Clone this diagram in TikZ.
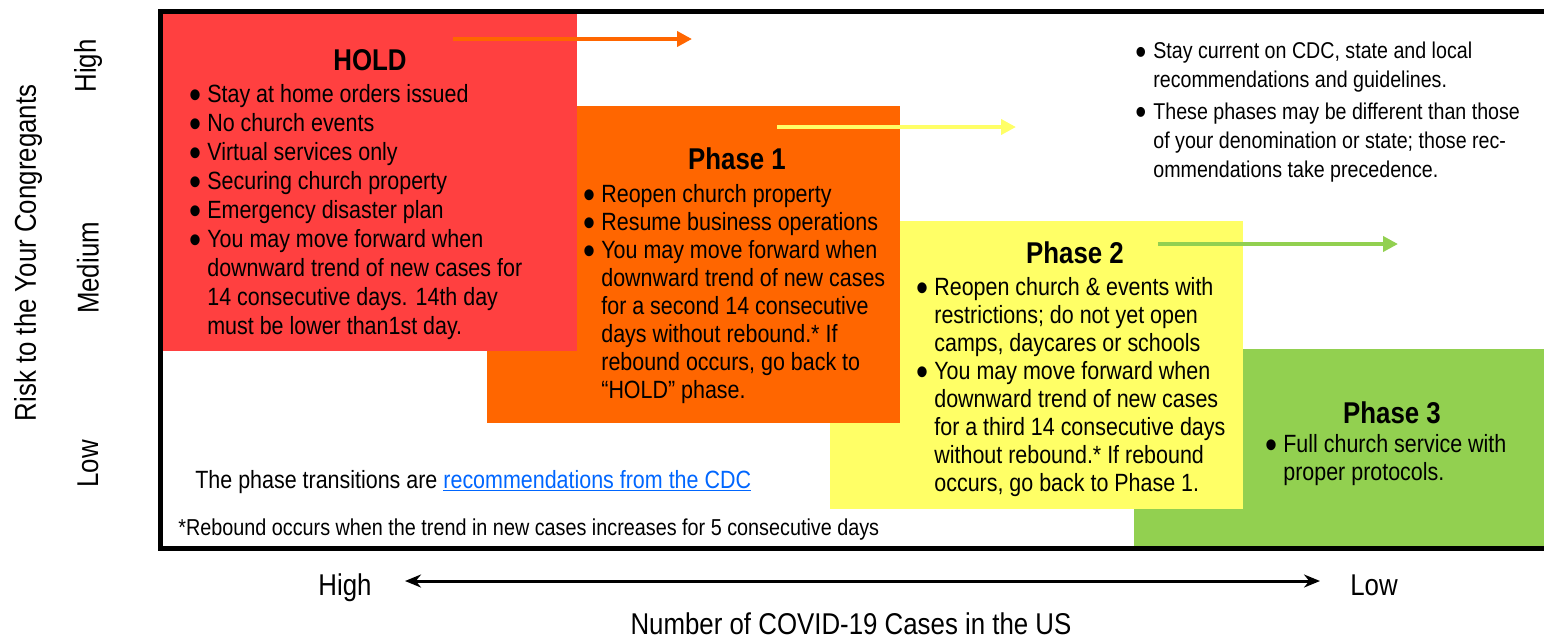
\documentclass[tikz,border=0pt]{standalone}
\usepackage{fontspec}
\setmainfont{Liberation Sans}[FakeStretch=0.86]
\usepackage{graphicx}
\usetikzlibrary{arrows.meta}
\definecolor{holdred}{RGB}{255,64,64}
\definecolor{ponebg}{RGB}{255,102,0}
\definecolor{ptwobg}{RGB}{255,255,102}
\definecolor{pthreebg}{RGB}{146,208,80}
\definecolor{linkblue}{RGB}{0,102,255}
\newlength\pxu \setlength\pxu{0.02cm}
\newcommand\bul{\makebox[16\pxu][l]{\hspace*{-2\pxu}\raisebox{-0.24em}{\scalebox{1.6}{•}}}}
\newcommand\ind{\hspace*{16\pxu}}
\begin{document}
\begin{tikzpicture}[x=0.02cm,y=-0.02cm,
  body/.style={align=left, anchor=base west, inner sep=0pt},
  phasetitle/.style={font=\bfseries\fontsize{17.1}{20}\selectfont, anchor=base, inner sep=0pt},
  axislabel/.style={font=\fontsize{17.1}{20}\selectfont, inner sep=0pt},
  phasearrow/.style={line width=0.08cm, -{Triangle[length=0.3cm,width=0.3cm]}}]
\useasboundingbox (0,0) rectangle (1544,637);
% phase boxes
\fill[pthreebg] (1134,349) rectangle (1560,547);
\fill[ptwobg] (830,221) rectangle (1243,509);
\fill[ponebg] (487,106) rectangle (900,423);
\fill[holdred] (163,14) rectangle (577,351);
% frame
\draw[line width=0.1cm] (160.5,11.5) rectangle (1570,548.5);
% transition arrows
\coordinate (oa) at (453,39); \coordinate (ob) at (692,39);
\coordinate (ya) at (777,127); \coordinate (yb) at (1016,127);
\coordinate (ga) at (1158,244); \coordinate (gb) at (1398,244);
\draw[phasearrow, ponebg] (oa) -- (ob);
\draw[phasearrow, ptwobg] (ya) -- (yb);
\draw[phasearrow, pthreebg] (ga) -- (gb);
% titles
\node[phasetitle] (holdt) at (370,70) {HOLD};
\node[phasetitle] (p1t) at (737,169) {Phase 1};
\node[phasetitle] (p2t) at (1075,263) {Phase 2};
\node[phasetitle] (p3t) at (1392,423) {Phase 3};
% body texts (anchored at the baseline of their last line)
\node[body, font=\fontsize{14.2}{16.5}\selectfont] (holdb) at (191,334) {\bul Stay at home orders issued\\
\bul No church events\\
\bul Virtual services only\\
\bul Securing church property\\
\bul Emergency disaster plan\\
\bul You may move forward when\\
\ind downward trend of new cases for\\
\ind 14 consecutive days. 14th day\\
\ind must be lower than1st day.};
\node[body, font=\fontsize{14.2}{15.9}\selectfont] (p1b) at (585,398) {\bul Reopen church property\\
\bul Resume business operations\\
\bul You may move forward when\\
\ind downward trend of new cases\\
\ind for a second 14 consecutive\\
\ind days without rebound.* If\\
\ind rebound occurs, go back to\\
\ind “HOLD” phase.};
\node[body, font=\fontsize{14.2}{15.9}\selectfont] (p2b) at (918,491) {\bul Reopen church \& events with\\
\ind restrictions; do not yet open\\
\ind camps, daycares or schools\\
\bul You may move forward when\\
\ind downward trend of new cases\\
\ind for a third 14 consecutive days\\
\ind without rebound.* If rebound\\
\ind occurs, go back to Phase 1.};
\node[body, font=\fontsize{14.2}{15.6}\selectfont] (p3b) at (1267,480) {\bul Full church service with\\
\ind proper protocols.};
\node[body, font=\fontsize{13.0}{16.4}\selectfont] (note) at (1137,177) {\bul Stay current on CDC, state and local\\
\ind recommendations and guidelines.\\[0.06cm]
\bul These phases may be different than those\\
\ind of your denomination or state; those rec-\\
\ind ommendations take precedence.};
% footer
\node[body, font=\fontsize{14.2}{16.5}\selectfont] (cdc) at (195,488) {The phase transitions are \textcolor{linkblue}{\underline{recommendations from the CDC}}};
\node[body, font=\fontsize{13.1}{15}\selectfont] (reb) at (178,535) {*Rebound occurs when the trend in new cases increases for 5 consecutive days};
% axes
\node[axislabel, rotate=90] (risk) at (28,253) {Risk to the Your Congregants};
\node[axislabel, rotate=90] (yhigh) at (88,66) {High};
\node[axislabel, rotate=90] (ymed) at (88,268) {Medium};
\node[axislabel, rotate=90] (ylow) at (88,464) {Low};
\node[axislabel, anchor=base] (xhigh) at (345,595) {High};
\node[axislabel, anchor=base] (xlow) at (1374,595) {Low};
\node[axislabel, anchor=base] (xtitle) at (851,634) {Number of COVID-19 Cases in the US};
\coordinate (xa) at (405,581); \coordinate (xb) at (1320,581);
\draw[line width=0.06cm, {Stealth[length=0.32cm,width=0.26cm]}-{Stealth[length=0.32cm,width=0.26cm]}] (xa) -- (xb);
\end{tikzpicture}
\end{document}
